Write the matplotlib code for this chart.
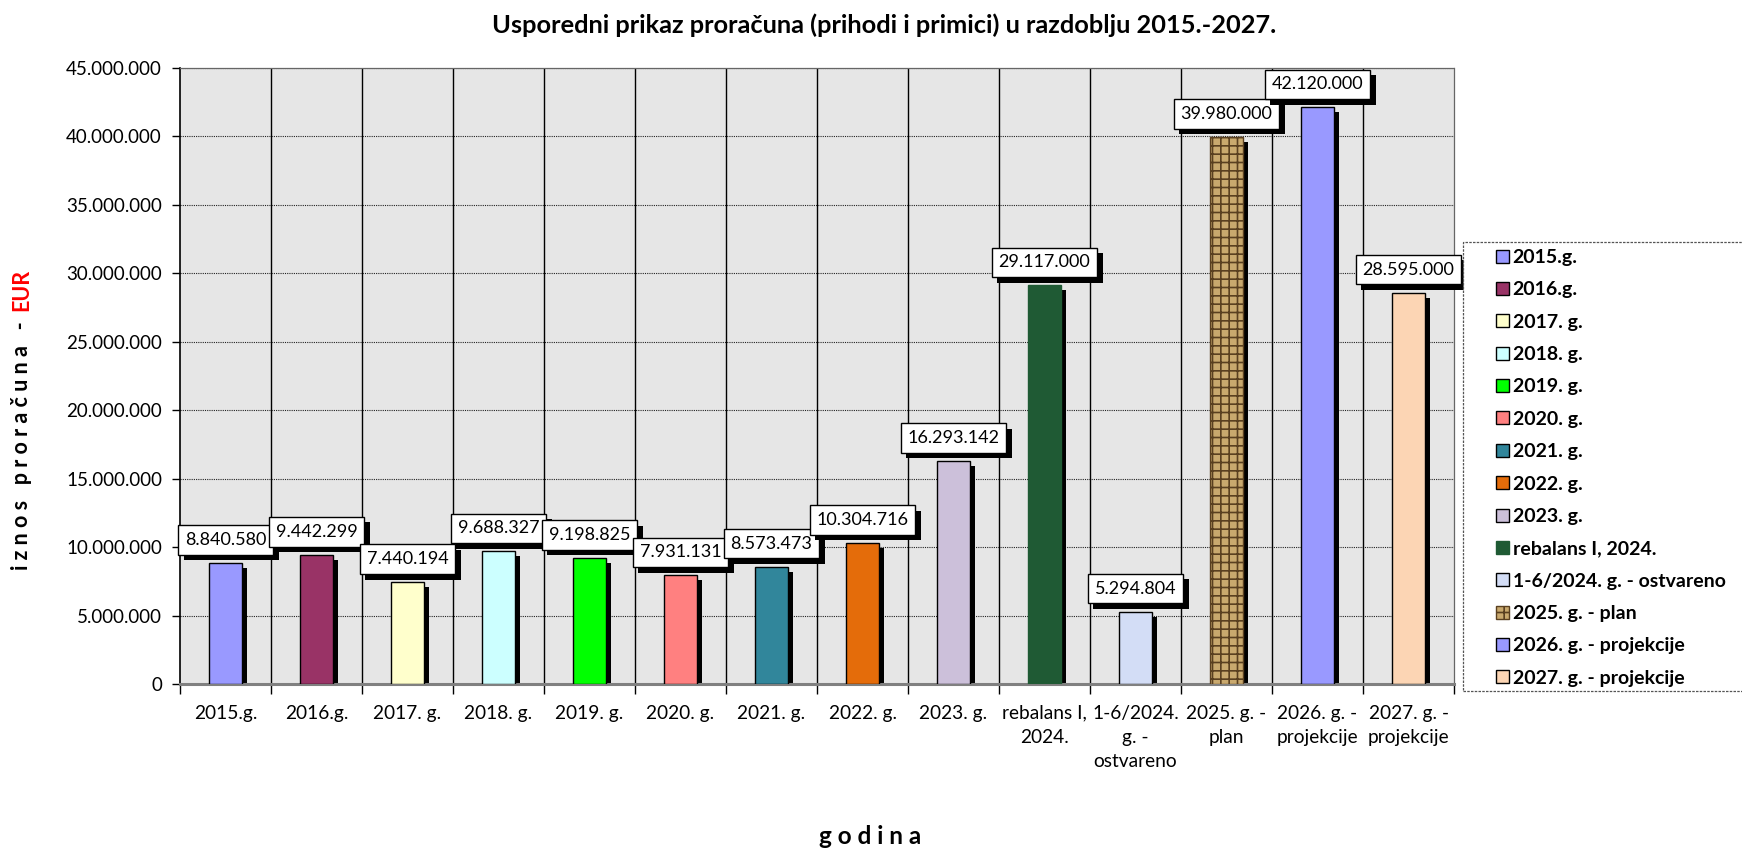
import matplotlib
matplotlib.use("Agg")
import matplotlib.pyplot as plt
import matplotlib.patheffects as pe
from matplotlib.transforms import offset_copy
from matplotlib.patches import Rectangle
import numpy as np

plt.rcParams['font.family'] = ['Lato', 'DejaVu Sans']
plt.rcParams['hatch.linewidth'] = 1.2

# ---------------- data ----------------
title = "Usporedni prikaz proračuna (prihodi i primici) u razdoblju 2015.-2027."
categories = ["2015.g.", "2016.g.", "2017. g.", "2018. g.", "2019. g.", "2020. g.",
              "2021. g.", "2022. g.", "2023. g.", "rebalans I, 2024.",
              "1-6/2024. g. - ostvareno", "2025. g. - plan",
              "2026. g. - projekcije", "2027. g. - projekcije"]
tick_labels = ["2015.g.", "2016.g.", "2017. g.", "2018. g.", "2019. g.", "2020. g.",
               "2021. g.", "2022. g.", "2023. g.", "rebalans I,\n2024.",
               "1-6/2024.\ng. -\nostvareno", "2025. g. -\nplan",
               "2026. g. -\nprojekcije", "2027. g. -\nprojekcije"]
values = [8840580, 9442299, 7440194, 9688327, 9198825, 7931131, 8573473,
          10304716, 16293142, 29117000, 5294804, 39980000, 42120000, 28595000]
colors = ["#9999ff", "#993366", "#ffffcc", "#ccffff", "#00ff00", "#ff8080",
          "#31869b", "#e46c0a", "#ccc0da", "#1f5a34", "#d3ddf6", "#c9a96e",
          "#9999ff", "#fcd5b4"]
edge_colors = ["black"] * 9 + ["#1f5a34", "black", "#5a4020", "black", "black"]
hatches = [None] * 11 + ["++", None, None]
y_ticks = [0, 5000000, 10000000, 15000000, 20000000, 25000000, 30000000,
           35000000, 40000000, 45000000]

def fmt(v):
    return f"{int(v):,}".replace(",", ".")

# ---------------- figure ----------------
W, H = 1742, 848
fig = plt.figure(figsize=(W / 100, H / 100), dpi=100)
ax_l, ax_r, ax_t, ax_b = 180, 1454, 68, 684
ax = fig.add_axes([ax_l / W, 1 - ax_b / H, (ax_r - ax_l) / W, (ax_b - ax_t) / H])
ax.set_facecolor("#e6e6e6")

n = len(values)
x = np.arange(n)
bw = 0.37

shadow_tr = offset_copy(ax.transData, fig=fig, x=5, y=-5, units='dots')
ax.bar(x, values, bw, color="black", transform=shadow_tr, zorder=2, clip_on=True)
bars = []
for i in range(n):
    b = ax.bar(x[i], values[i], bw, color=colors[i], edgecolor=edge_colors[i],
               linewidth=1.0, hatch=hatches[i], zorder=3, label=categories[i])
    bars.append(b)

# value labels
for i in range(n):
    t = ax.annotate(fmt(values[i]), xy=(x[i], values[i]), xytext=(0, 15),
                    textcoords="offset pixels", ha="center", va="bottom",
                    fontsize=13, zorder=6,
                    bbox=dict(boxstyle="square,pad=0.38", fc="white", ec="black", lw=1.0))
    t.get_bbox_patch().set_path_effects([
        pe.SimplePatchShadow(offset=(4, -4), shadow_rgbFace="black", alpha=1.0),
        pe.Normal()])

ax.set_xlim(-0.5, n - 0.5)
ax.set_ylim(0, 45000000)
ax.set_yticks(y_ticks)
ax.set_yticklabels([fmt(v) for v in y_ticks], fontsize=13.5)
ax.tick_params(axis="y", length=6, width=1, pad=7, color="black")
ax.set_xticks(x)
ax.set_xticklabels(tick_labels, fontsize=13.8, linespacing=1.5, va="top")
ax.tick_params(axis="x", which="major", length=0, pad=15)
ax.set_xticks(np.arange(n + 1) - 0.5, minor=True)
ax.tick_params(axis="x", which="minor", length=7, width=1, color="black")

ax.grid(axis="y", which="major", color="#222222", linestyle=(0, (1, 1)), linewidth=0.8, zorder=1)
ax.set_axisbelow(True)
for b in np.arange(1, n) - 0.5:
    ax.axvline(b, color="black", linewidth=1.0, zorder=1)

ax.spines["left"].set_color("black")
ax.spines["left"].set_linewidth(1.2)
ax.spines["bottom"].set_color("#808080")
ax.spines["bottom"].set_linewidth(2.2)
for s in ("top", "right"):
    ax.spines[s].set_color("#666666")
    ax.spines[s].set_linestyle((0, (1, 1)))
    ax.spines[s].set_linewidth(0.9)

# title & axis titles
fig.text(884 / W, 1 - 25 / H, title, ha="center", va="center", fontsize=18.3, weight="bold")
fig.text(870 / W, 1 - 836 / H, "g o d i n a", ha="center", va="center", fontsize=17.5, weight="bold")

ylab = fig.text(22 / W, 1 - 570 / H, "i z n o s   p r o r a č u n a   -  ", rotation=90,
                ha="center", va="bottom", fontsize=15.5, weight="bold", color="black")
fig.canvas.draw()
ext = ylab.get_window_extent()
fig.text(22 / W, ext.y1 / H, "EUR", rotation=90, ha="center", va="bottom",
         fontsize=15.5, weight="bold", color="#ff0000")

# legend
frame = Rectangle((1463 / W, 1 - 691 / H), (W + 5 - 1463) / W, (691 - 242) / H,
                  transform=fig.transFigure, fill=True, facecolor="white",
                  edgecolor="#555555", linewidth=0.9, linestyle=(0, (2, 1)), zorder=0)
fig.patches.append(frame)
leg = fig.legend(handles=bars, labels=categories, loc="upper left",
                 bbox_to_anchor=(1496 / W, 1 - 249 / H), bbox_transform=fig.transFigure,
                 frameon=False, borderpad=0, borderaxespad=0,
                 prop={"weight": "bold", "size": 14},
                 handlelength=0.65, handleheight=0.65, handletextpad=0.2,
                 labelspacing=0.79)

fig.savefig("out.png", dpi=100)
